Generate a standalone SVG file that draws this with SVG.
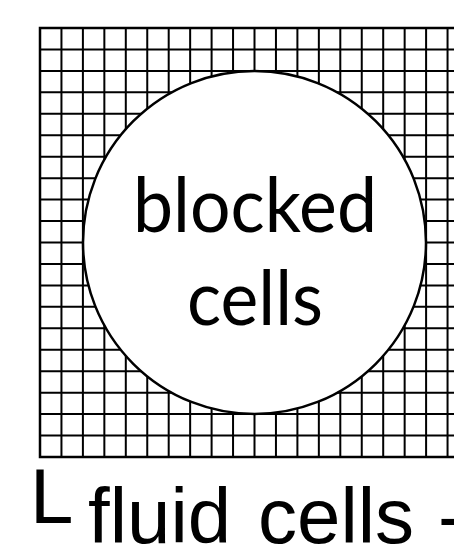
<svg xmlns="http://www.w3.org/2000/svg" width="454" height="545" viewBox="0 0 454 545">
<defs>
<style>
.g{stroke:#000;stroke-width:2;fill:none}
.b{stroke:#000;stroke-width:2.5;fill:none}
.c{font-family:Lato,"Open Sans","Noto Sans",sans-serif;font-size:75px;fill:#000;text-anchor:middle}
.f{font-family:"Liberation Sans",Arial,sans-serif;font-size:78px;fill:#000}
</style>
</defs>
<rect width="454" height="545" fill="#fff"/>
<g id="grid-cells">
<path class="g" d="M61.45,28V457M82.9,28V457M104.35,28V457M125.8,28V457M147.25,28V457M168.7,28V457M190.15,28V457M211.6,28V457M233.05,28V457M254.5,28V457M275.95,28V457M297.4,28V457M318.85,28V457M340.3,28V457M361.75,28V457M383.2,28V457M404.65,28V457M426.1,28V457M447.55,28V457"/>
<path class="g" d="M40,49.45H470M40,70.9H470M40,92.35H470M40,113.8H470M40,135.25H470M40,156.7H470M40,178.15H470M40,199.6H470M40,221.05H470M40,242.5H470M40,263.95H470M40,285.4H470M40,306.85H470M40,328.3H470M40,349.75H470M40,371.2H470M40,392.65H470M40,414.1H470M40,435.55H470"/>
<rect class="b" x="40" y="28" width="429" height="429"/>
</g>
<g id="blocked-cells">
<circle cx="254.5" cy="242.5" r="171.5" fill="#fff" stroke="#000" stroke-width="2.5"/>
<text class="c" x="255" y="232" textLength="244" lengthAdjust="spacingAndGlyphs">blocked</text>
<text class="c" x="255" y="325" textLength="136" lengthAdjust="spacingAndGlyphs">cells</text>
</g>
<g id="fluid-label">
<text class="f" x="30" y="523" font-size="72">L</text>
<text class="f" x="88" y="543">fluid</text>
<text class="f" x="258" y="543">cells</text>
<text class="f" x="438" y="543">-</text>
</g>
</svg>
